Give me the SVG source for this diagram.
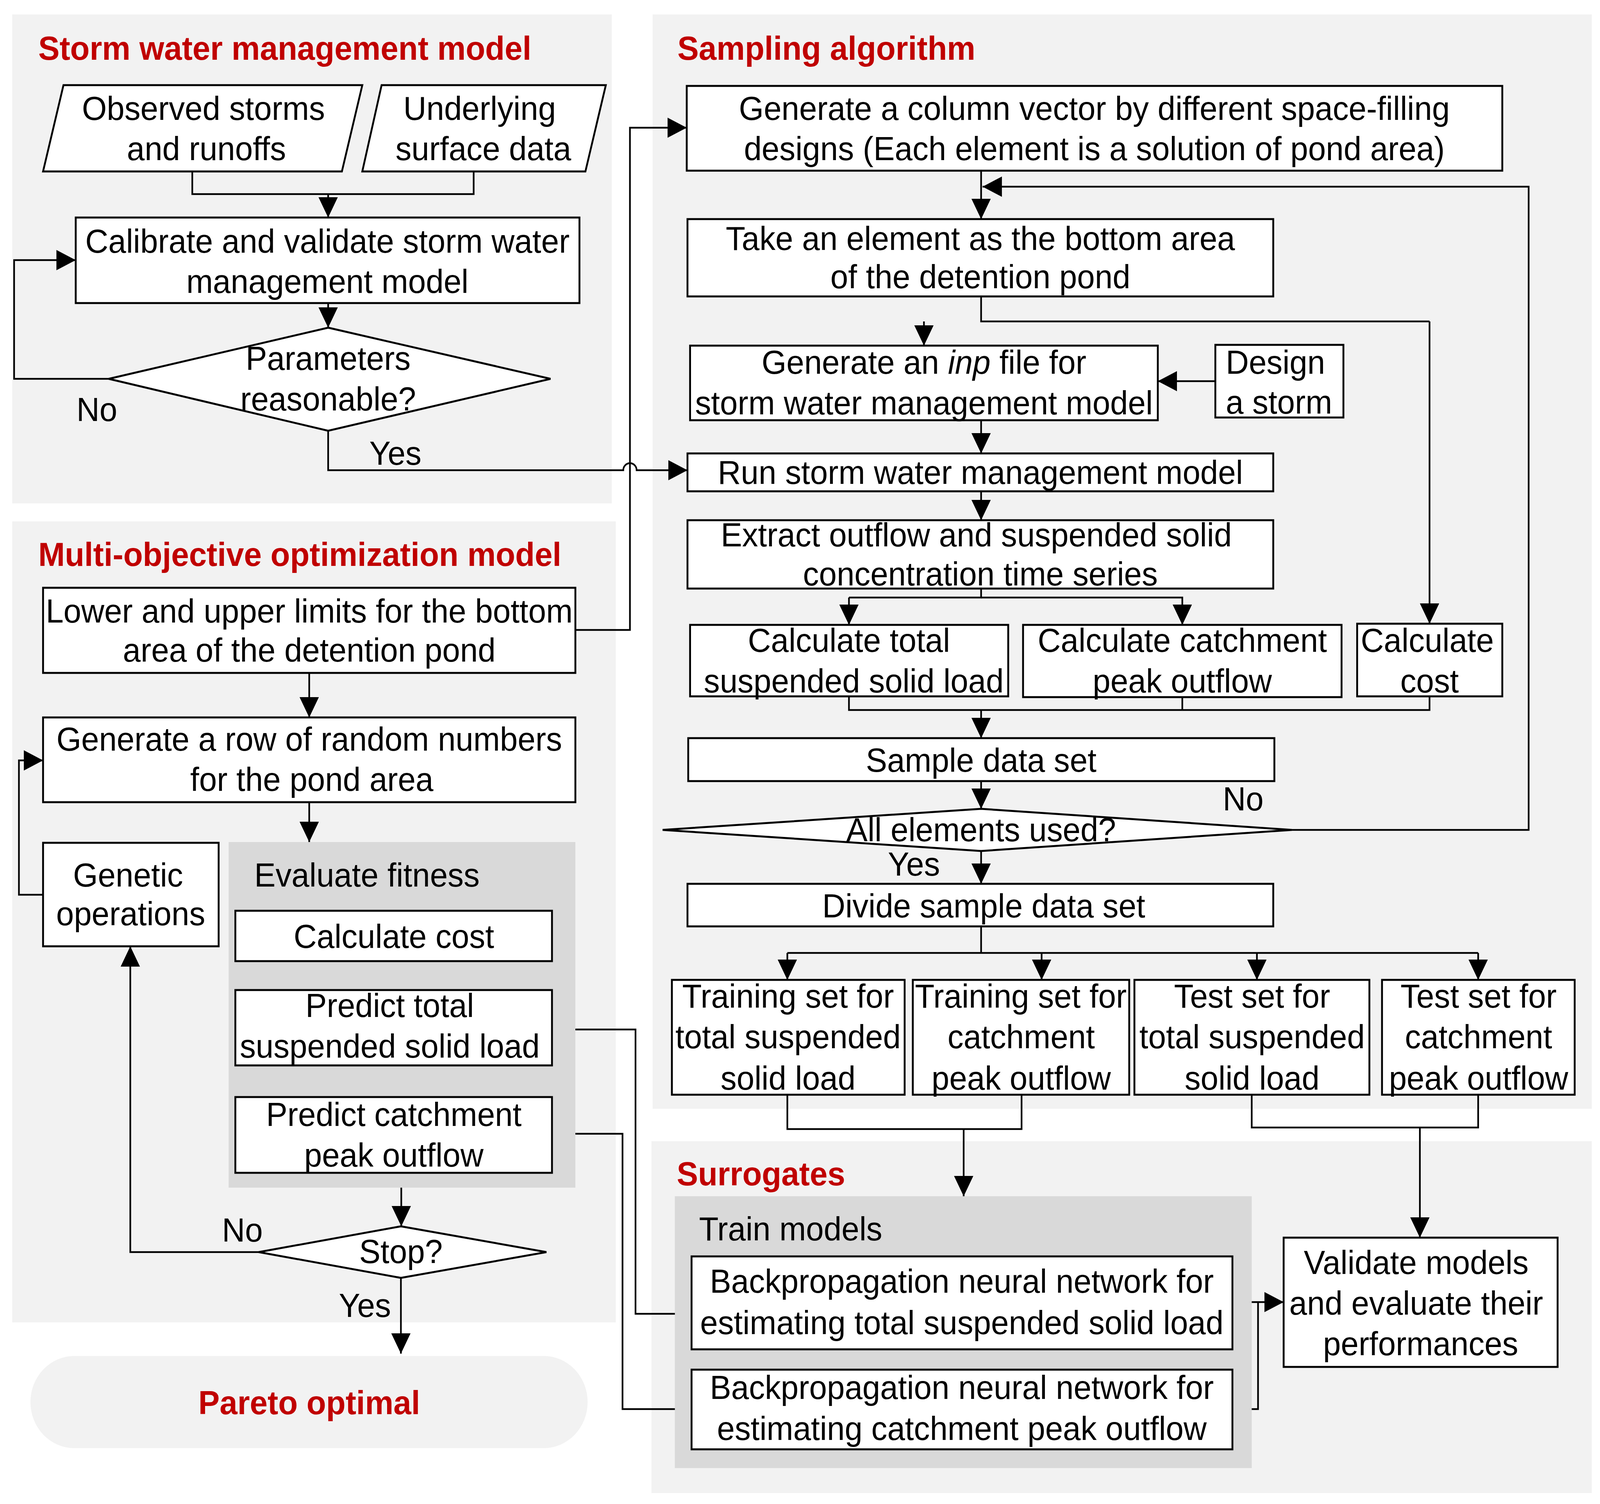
<svg xmlns="http://www.w3.org/2000/svg" width="4310" height="3851" viewBox="0 0 4310 3851">
<style>
.bg{fill:#f2f2f2}
.gr{fill:#d9d9d9}
.box{fill:#fff;stroke:#000;stroke-width:5}
.t{font-family:"Liberation Sans",Arial,sans-serif;font-size:86px;fill:#000}
.c{text-anchor:middle}
.h{font-weight:bold;fill:#c00000}
.ln{fill:none;stroke:#000;stroke-width:4.5}
.ar{marker-end:url(#a)}
</style>
<defs>
<marker id="a" markerUnits="userSpaceOnUse" markerWidth="54" markerHeight="54" refX="52" refY="26" orient="auto" viewBox="0 0 54 54">
<path d="M0,0 L52,26 L0,52 z" fill="#000"/>
</marker>
</defs>
<rect width="4310" height="3851" fill="#fff"/>
<g id="diagram" transform="matrix(0.9503,0,0,1,0,0)">

<!-- Panels -->
<g id="panel-swmm">
<rect class="bg" x="33" y="37" width="1615" height="1252"/>
<text class="t h" x="103" y="153">Storm water management model</text>
</g>
<g id="panel-sampling">
<rect class="bg" x="1758" y="37" width="2530" height="2802"/>
<text class="t h" x="1825" y="153">Sampling algorithm</text>
</g>
<g id="panel-moo">
<rect class="bg" x="33" y="1335" width="1626" height="2051"/>
<text class="t h" x="103" y="1449">Multi-objective optimization model</text>
</g>
<g id="panel-surrogates">
<rect class="bg" x="1755" y="2922" width="2533" height="901"/>
<text class="t h" x="1823" y="3035">Surrogates</text>
</g>

<!-- Connectors -->
<g id="connectors">
<path class="ln" d="M518,439 V497 H1276 V439"/>
<path class="ln ar" d="M884,497 V557"/>
<path class="ln ar" d="M884,776 V839"/>
<path class="ln ar" d="M293,970 H38 V666 H204"/>
<path class="ln ar" d="M884,1103 V1204 H1679 A18,18 0 0 1 1715,1204 H1852"/>
<path class="ln ar" d="M1550,1613 H1697 V327 H1850"/>
<path class="ln ar" d="M2643,437 V561"/>
<path class="ln ar" d="M3480,2125 H4118 V478 H2647"/>
<path class="ln" d="M2643,759 V823 H3851"/>
<path class="ln ar" d="M2489,823 V885"/>
<path class="ln ar" d="M3851,823 V1597"/>
<path class="ln ar" d="M3274,976 H3119"/>
<path class="ln ar" d="M2643,1076 V1161"/>
<path class="ln ar" d="M2643,1258 V1332"/>
<path class="ln" d="M2643,1507 V1530 H2287"/>
<path class="ln ar" d="M2287,1530 V1600"/>
<path class="ln ar" d="M2643,1530 H3185 V1600"/>
<path class="ln" d="M2287,1783 V1818 H3851 V1783"/>
<path class="ln" d="M3185,1785 V1818"/>
<path class="ln ar" d="M2643,1818 V1890"/>
<path class="ln ar" d="M2643,2000 V2071"/>
<path class="ln ar" d="M2643,2179 V2263"/>
<path class="ln" d="M2643,2372 V2440 M2121,2440 H3982"/>
<path class="ln ar" d="M2121,2440 V2509"/>
<path class="ln ar" d="M2806,2440 V2509"/>
<path class="ln ar" d="M3386,2440 V2509"/>
<path class="ln ar" d="M3982,2440 V2509"/>
<path class="ln" d="M2121,2803 V2891 H2752 V2803"/>
<path class="ln ar" d="M2596,2891 V3063"/>
<path class="ln" d="M3372,2803 V2887 H3982 V2803"/>
<path class="ln ar" d="M3825,2887 V3169"/>
<path class="ln ar" d="M3320,3334 H3458"/>
<path class="ln" d="M3320,3608 H3389 V3334"/>
<path class="ln ar" d="M1863,3364 H1712 V2636 H1489"/>
<path class="ln ar" d="M1863,3608 H1677 V2903 H1489"/>
<path class="ln ar" d="M833,1723 V1837"/>
<path class="ln ar" d="M833,2054 V2156"/>
<path class="ln ar" d="M116,2291 H51 V1947 H116"/>
<path class="ln ar" d="M1081,3041 V3140"/>
<path class="ln ar" d="M697,3206 H351 V2423"/>
<path class="ln ar" d="M1080,3272 V3466"/>
<text class="t" x="206" y="1078">No</text>
<text class="t" x="995" y="1190">Yes</text>
<text class="t" x="3294" y="2075">No</text>
<text class="t" x="2392" y="2242">Yes</text>
<text class="t" x="598" y="3179">No</text>
<text class="t" x="913" y="3372">Yes</text>
</g>

<!-- SWMM nodes -->
<g id="n-observed">
<polygon class="box" points="171,218 976,218 921,439 116,439"/>
<text class="t c" x="548" y="307">Observed storms</text>
<text class="t c" x="556" y="410">and runoffs</text>
</g>
<g id="n-underlying">
<polygon class="box" points="1028,218 1632,218 1577,439 976,439"/>
<text class="t c" x="1292" y="307">Underlying</text>
<text class="t c" x="1302" y="410">surface data</text>
</g>
<g id="n-calibrate">
<rect class="box" x="204" y="557" width="1357" height="219"/>
<text class="t c" x="882" y="647">Calibrate and validate storm water</text>
<text class="t c" x="882" y="750">management model</text>
</g>
<g id="n-params">
<polygon class="box" points="884,839 1483,970 884,1103 293,970"/>
<text class="t c" x="884" y="947">Parameters</text>
<text class="t c" x="884" y="1051">reasonable?</text>
</g>

<!-- Sampling nodes -->
<g id="n-column">
<rect class="box" x="1850" y="220" width="2197" height="217"/>
<text class="t c" x="2948" y="307">Generate a column vector by different space-filling</text>
<text class="t c" x="2948" y="410">designs (Each element is a solution of pond area)</text>
</g>
<g id="n-take">
<rect class="box" x="1852" y="561" width="1578" height="198"/>
<text class="t c" x="2641" y="640">Take an element as the bottom area</text>
<text class="t c" x="2641" y="738">of the detention pond</text>
</g>
<g id="n-inp">
<rect class="box" x="1859" y="885" width="1260" height="191"/>
<text class="t c" x="2489" y="957">Generate an <tspan font-style="italic">inp</tspan> file for</text>
<text class="t c" x="2489" y="1061">storm water management model</text>
</g>
<g id="n-design">
<rect class="box" x="3274" y="883" width="345" height="186"/>
<text class="t" x="3302" y="957">Design</text>
<text class="t" x="3302" y="1059">a storm</text>
</g>
<g id="n-run">
<rect class="box" x="1852" y="1161" width="1578" height="97"/>
<text class="t c" x="2641" y="1239">Run storm water management model</text>
</g>
<g id="n-extract">
<rect class="box" x="1852" y="1332" width="1578" height="175"/>
<text class="t c" x="2630" y="1399">Extract outflow and suspended solid</text>
<text class="t c" x="2641" y="1499">concentration time series</text>
</g>
<g id="n-calc-tss">
<rect class="box" x="1859" y="1600" width="857" height="183"/>
<text class="t c" x="2287" y="1669">Calculate total</text>
<text class="t c" x="2300" y="1773">suspended solid load</text>
</g>
<g id="n-calc-peak">
<rect class="box" x="2756" y="1600" width="858" height="185"/>
<text class="t c" x="3185" y="1669">Calculate catchment</text>
<text class="t c" x="3185" y="1773">peak outflow</text>
</g>
<g id="n-calc-cost">
<rect class="box" x="3656" y="1597" width="391" height="186"/>
<text class="t c" x="3845" y="1669">Calculate</text>
<text class="t c" x="3851" y="1773">cost</text>
</g>
<g id="n-sample">
<rect class="box" x="1854" y="1890" width="1579" height="110"/>
<text class="t c" x="2643" y="1976">Sample data set</text>
</g>
<g id="n-all-used">
<polygon class="box" points="2643,2071 3480,2125 2643,2179 1785,2125"/>
<text class="t c" x="2643" y="2154">All elements used?</text>
</g>
<g id="n-divide">
<rect class="box" x="1852" y="2263" width="1578" height="109"/>
<text class="t c" x="2650" y="2349">Divide sample data set</text>
</g>
<g id="n-train-tss">
<rect class="box" x="1810" y="2509" width="627" height="294"/>
<text class="t c" x="2123" y="2580">Training set for</text>
<text class="t c" x="2123" y="2684">total suspended</text>
<text class="t c" x="2123" y="2790">solid load</text>
</g>
<g id="n-train-peak">
<rect class="box" x="2459" y="2509" width="583" height="294"/>
<text class="t c" x="2750" y="2580">Training set for</text>
<text class="t c" x="2751" y="2684">catchment</text>
<text class="t c" x="2751" y="2790">peak outflow</text>
</g>
<g id="n-test-tss">
<rect class="box" x="3056" y="2509" width="633" height="294"/>
<text class="t c" x="3373" y="2580">Test set for</text>
<text class="t c" x="3373" y="2684">total suspended</text>
<text class="t c" x="3373" y="2790">solid load</text>
</g>
<g id="n-test-peak">
<rect class="box" x="3723" y="2509" width="519" height="294"/>
<text class="t c" x="3983" y="2580">Test set for</text>
<text class="t c" x="3983" y="2684">catchment</text>
<text class="t c" x="3983" y="2790">peak outflow</text>
</g>

<!-- Surrogates nodes -->
<g id="n-train-models">
<rect class="gr" x="1818" y="3063" width="1554" height="696"/>
<text class="t" x="1883" y="3176">Train models</text>
</g>
<g id="n-bpnn-tss">
<rect class="box" x="1863" y="3217" width="1457" height="238"/>
<text class="t c" x="2591" y="3310">Backpropagation neural network for</text>
<text class="t c" x="2591" y="3416">estimating total suspended solid load</text>
</g>
<g id="n-bpnn-peak">
<rect class="box" x="1863" y="3507" width="1457" height="204"/>
<text class="t c" x="2591" y="3582">Backpropagation neural network for</text>
<text class="t c" x="2591" y="3687">estimating catchment peak outflow</text>
</g>
<g id="n-validate">
<rect class="box" x="3458" y="3169" width="738" height="331"/>
<text class="t c" x="3815" y="3262">Validate models</text>
<text class="t c" x="3815" y="3366">and evaluate their</text>
<text class="t c" x="3827" y="3470">performances</text>
</g>

<!-- MOO nodes -->
<g id="n-limits">
<rect class="box" x="116" y="1505" width="1434" height="218"/>
<text class="t c" x="833" y="1594">Lower and upper limits for the bottom</text>
<text class="t c" x="833" y="1694">area of the detention pond</text>
</g>
<g id="n-random">
<rect class="box" x="116" y="1837" width="1434" height="217"/>
<text class="t c" x="833" y="1922">Generate a row of random numbers</text>
<text class="t c" x="840" y="2025">for the pond area</text>
</g>
<g id="n-evaluate">
<rect class="gr" x="616" y="2156" width="934" height="885"/>
<text class="t" x="685" y="2270">Evaluate fitness</text>
</g>
<g id="n-cost">
<rect class="box" x="634" y="2332" width="853" height="129"/>
<text class="t c" x="1061" y="2427">Calculate cost</text>
</g>
<g id="n-pred-tss">
<rect class="box" x="634" y="2535" width="853" height="193"/>
<text class="t c" x="1050" y="2604">Predict total</text>
<text class="t c" x="1050" y="2708">suspended solid load</text>
</g>
<g id="n-pred-peak">
<rect class="box" x="634" y="2809" width="853" height="194"/>
<text class="t c" x="1061" y="2883">Predict catchment</text>
<text class="t c" x="1061" y="2987">peak outflow</text>
</g>
<g id="n-genetic">
<rect class="box" x="116" y="2158" width="473" height="265"/>
<text class="t c" x="345" y="2270">Genetic</text>
<text class="t c" x="352" y="2369">operations</text>
</g>
<g id="n-stop">
<polygon class="box" points="1080,3140 1472,3206 1080,3272 697,3206"/>
<text class="t c" x="1080" y="3234">Stop?</text>
</g>
<g id="n-pareto">
<rect class="bg" x="82" y="3472" width="1501" height="236" rx="118" ry="118"/>
<text class="t c h" x="833" y="3621">Pareto optimal</text>
</g>
</g>
</svg>
